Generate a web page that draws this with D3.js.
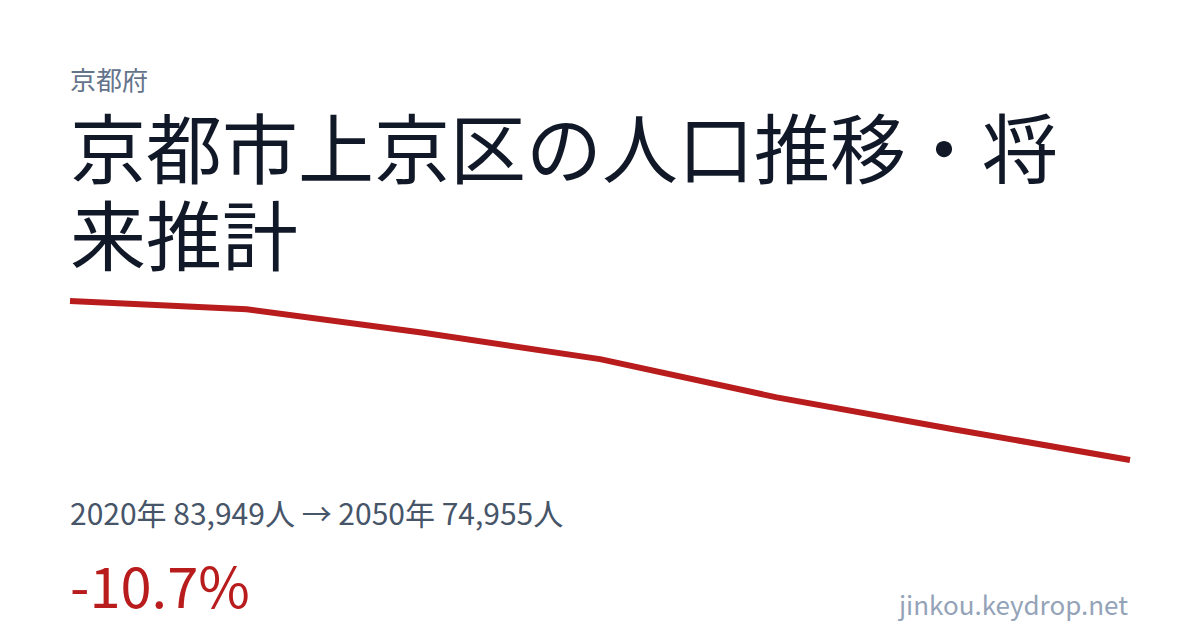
<!DOCTYPE html>
<html><head><meta charset="utf-8">
<script src="https://cdn.jsdelivr.net/npm/d3@7/dist/d3.min.js"></script>
<style>html,body{margin:0;padding:0;background:#fff;}svg{display:block;}</style>
</head><body>
<script>
const years = [2020, 2025, 2030, 2035, 2040, 2045, 2050];
const population = [83949, 83482, 82150, 80661, 78496, 76697, 74955];
const prefecture = "京都府";
const titleLines = ["京都市上京区の人口推移・将", "来推計"];
const footer = "jinkou.keydrop.net";

const W = 1200, H = 630;
const font = "'Noto Sans CJK JP','Noto Sans',sans-serif";
const svg = d3.select("body").append("svg").attr("width", W).attr("height", H);

svg.append("text").attr("x", 70).attr("y", 90).attr("font-family", font)
  .attr("font-size", 26).attr("fill", "#64748b").text(prefecture);

svg.append("g").selectAll("text").data(titleLines).join("text")
  .attr("x", 70).attr("y", (d, i) => 178 + i * 87)
  .attr("font-family", font).attr("font-size", 76).attr("fill", "#111827")
  .text(d => d);

const x = d3.scaleLinear().domain([years[0], years[years.length - 1]]).range([70, 1130]);
const y = d3.scaleLinear().domain([d3.min(population), d3.max(population)]).range([460, 301]);

const line = d3.line().x((d, i) => x(years[i])).y(d => y(d));
svg.append("path").datum(population).attr("d", line)
  .attr("fill", "none").attr("stroke", "#b91c1c").attr("stroke-width", 6)
  .attr("stroke-linejoin", "round");

const fmt = d3.format(",");
const first = population[0], last = population[population.length - 1];
svg.append("text").attr("x", 70).attr("y", 525).attr("font-family", font)
  .attr("font-size", 30).attr("fill", "#475569")
  .text(`${years[0]}年 ${fmt(first)}人 → ${years[years.length - 1]}年 ${fmt(last)}人`);

const pct = ((last - first) / first * 100).toFixed(1);
svg.append("text").attr("x", 70).attr("y", 608).attr("font-family", font)
  .attr("font-size", 56).attr("fill", "#b91c1c").text(`${pct}%`);

svg.append("text").attr("x", 1128).attr("y", 615).attr("text-anchor", "end")
  .attr("font-family", font).attr("font-size", 26).attr("fill", "#94a3b8").text(footer);
</script>
</body></html>
